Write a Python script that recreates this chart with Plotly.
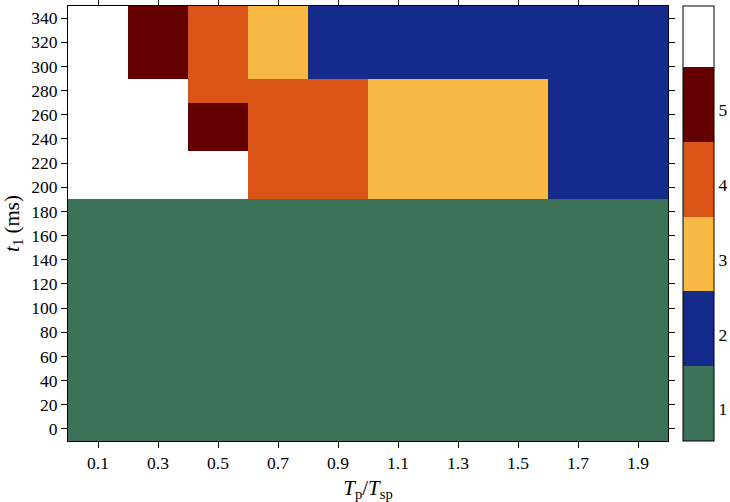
import plotly.graph_objects as go

# cell centres
tp_ratio = [0.1, 0.3, 0.5, 0.7, 0.9, 1.1, 1.3, 1.5, 1.7, 1.9]
t1_ms = [0, 20, 40, 60, 80, 100, 120, 140, 160, 180,
         200, 220, 240, 260, 280, 300, 320, 340]

# class per cell (6 = white / none), rows follow t1_ms
row_low = [1, 1, 1, 1, 1, 1, 1, 1, 1, 1]
row_200 = [6, 6, 6, 4, 4, 3, 3, 3, 2, 2]
row_240 = [6, 6, 5, 4, 4, 3, 3, 3, 2, 2]
row_280 = [6, 6, 4, 4, 4, 3, 3, 3, 2, 2]
row_300 = [6, 5, 4, 3, 2, 2, 2, 2, 2, 2]
z = [row_low] * 10 + [row_200, row_200, row_240, row_240, row_280,
                      row_300, row_300, row_300]

class_colors = ["#3c7258", "#152b8b", "#f7b944", "#da5418", "#640000", "#ffffff"]
cbar_ticks = [1, 2, 3, 4, 5]
# colour bar span (bins one unit wide from cmin)
cmin, cmax = 0.575, 6.39

colorscale = []
for i, c in enumerate(class_colors):
    lo = i / (cmax - cmin)
    hi = min((i + 1) / (cmax - cmin), 1.0)
    colorscale.append([lo, c])
    colorscale.append([hi, c])

font = dict(family="Liberation Serif", size=17.5, color="black")

fig = go.Figure()
fig.add_trace(go.Heatmap(
    x=tp_ratio, y=t1_ms, z=z,
    colorscale=colorscale, zmin=cmin, zmax=cmax,
    colorbar=dict(
        x=1.025, xanchor="left", xpad=0, ypad=0,
        y=0.5, len=1, thickness=31,
        outlinecolor="black", outlinewidth=1,
        tickvals=cbar_ticks, ticks="",
        tickfont=font,
    ),
))

fig.update_layout(
    width=730, height=502,
    margin=dict(l=68, r=62, t=6, b=61, autoexpand=False),
    paper_bgcolor="white", plot_bgcolor="white",
    font=font,
    xaxis=dict(
        range=[0, 2.0], tick0=0.1, dtick=0.2, tickformat=".1f",
        ticks="outside", ticklen=6, tickcolor="black",
        showline=True, linecolor="black", linewidth=1, mirror="ticks",
        showgrid=False, zeroline=False, automargin=False,
        title=dict(text="<i>T</i><sub>p</sub>/<i>T</i><sub>sp</sub>", standoff=8),
    ),
    yaxis=dict(
        range=[-10, 350], tick0=0, dtick=20,
        ticks="outside", ticklen=6, tickcolor="black",
        showline=True, linecolor="black", linewidth=1, mirror="ticks",
        showgrid=False, zeroline=False, automargin=False,
        title=dict(text="<i>t</i><sub>1</sub> (ms)", standoff=8),
    ),
)

# drop the browser's default body margin so the figure sits at the corner
fig.write_html("out.html", config={"displayModeBar": False},
               post_script="document.body.style.margin='0';")
